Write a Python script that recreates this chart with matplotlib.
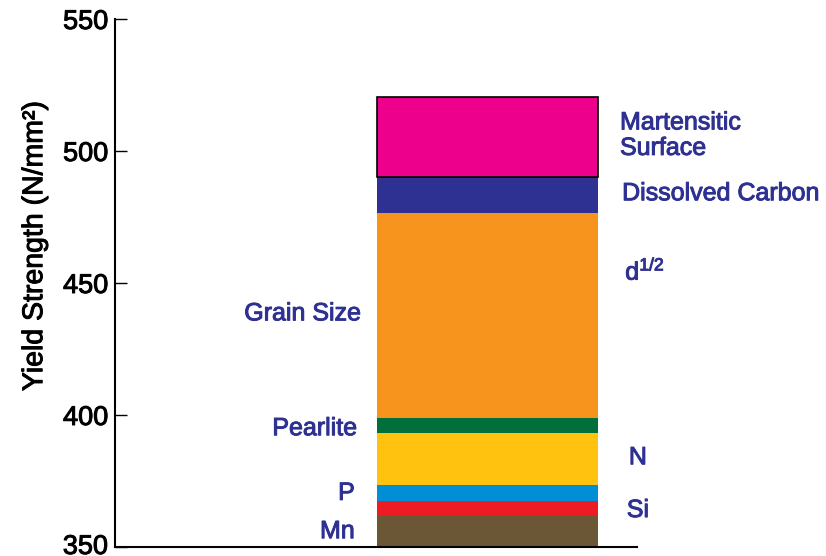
import matplotlib
matplotlib.use("Agg")
import matplotlib.pyplot as plt
import matplotlib.patheffects as pe
from matplotlib.transforms import ScaledTranslation

plt.rcParams['font.family'] = ['Liberation Sans', 'DejaVu Sans']
plt.rcParams['mathtext.fontset'] = 'custom'
plt.rcParams['mathtext.rm'] = 'Liberation Sans'

# stacked contributions to yield strength, bottom to top (N/mm^2)
components = ["Mn", "Si", "P", "N", "Pearlite", "Grain Size", "Dissolved Carbon", "Martensitic Surface"]
contributions = [12, 5.5, 6, 19.5, 6, 77.5, 13.5, 30.5]
colors = ["#6B5636", "#ED1C24", "#008FD5", "#FFC20E", "#006F3C", "#F7941D", "#2E3192", "#EC008C"]
base = 350
yticks = [350, 400, 450, 500, 550]

label_color = "#2E3192"

def thick(col, lw=0.7):
    # fake a medium weight by stroking the glyph outline
    return [pe.withStroke(linewidth=lw, foreground=col)]

fig = plt.figure(figsize=(8.26, 5.56), dpi=100)
ax = fig.add_axes([115 / 826, 9 / 556, 522 / 826, 528 / 556])

bottom = base
bar_x = 0.7136
bar_w = 0.4215
for name, val, col in zip(components, contributions, colors):
    if name == "Martensitic Surface":
        ax.bar(bar_x, val, bottom=bottom, width=bar_w, color=col, edgecolor="black", linewidth=1.2, zorder=3)
    else:
        ax.bar(bar_x, val, bottom=bottom, width=bar_w, color=col, linewidth=0, zorder=2)
    bottom += val

ax.set_xlim(0, 1)
ax.set_ylim(350, 550)
ax.set_yticks(yticks)
ax.set_xticks([])
ax.tick_params(axis="y", direction="in", length=8.5, width=1, pad=5, labelsize=19.5)
for t in ax.get_yticklabels():
    t.set_path_effects(thick("black"))
# lift the bottom label a little so it stays inside the figure
lab0 = ax.yaxis.get_major_ticks()[0].label1
lab0.set_transform(lab0.get_transform() + ScaledTranslation(0, 3 / 100, fig.dpi_scale_trans))
for s in ["top", "right"]:
    ax.spines[s].set_visible(False)
for s in ["left", "bottom"]:
    ax.spines[s].set_linewidth(1.5)
ylab = ax.set_ylabel("Yield Strength (N/mm²)", fontsize=20.5)
ylab.set_path_effects(thick("black"))
ax.yaxis.set_label_coords(-0.128, 0.57)

# right side labels
rx = 505 / 522
kw = dict(color=label_color, fontsize=18, va="center", path_effects=thick(label_color))
ax.text(rx, 506, "Martensitic\nSurface", ha="left", linespacing=1.08, **kw)
ax.text(rx + 0.004, 484, "Dissolved Carbon", ha="left", **kw)
ax.text(rx + 0.01, 454.5, r"$\mathregular{d^{1/2}}$", ha="left", **kw)
ax.text(rx + 0.017, 384, "N", ha="left", **kw)
ax.text(rx + 0.013, 364, "Si", ha="left", **kw)

# left side labels
lx = 246 / 522
ax.text(lx, 438.5, "Grain Size", ha="right", **kw)
ax.text(lx - 0.008, 395, "Pearlite", ha="right", **kw)
ax.text(lx - 0.012, 370.5, "P", ha="right", **kw)
ax.text(lx - 0.012, 356, "Mn", ha="right", **kw)

fig.savefig("out.png", dpi=100)
